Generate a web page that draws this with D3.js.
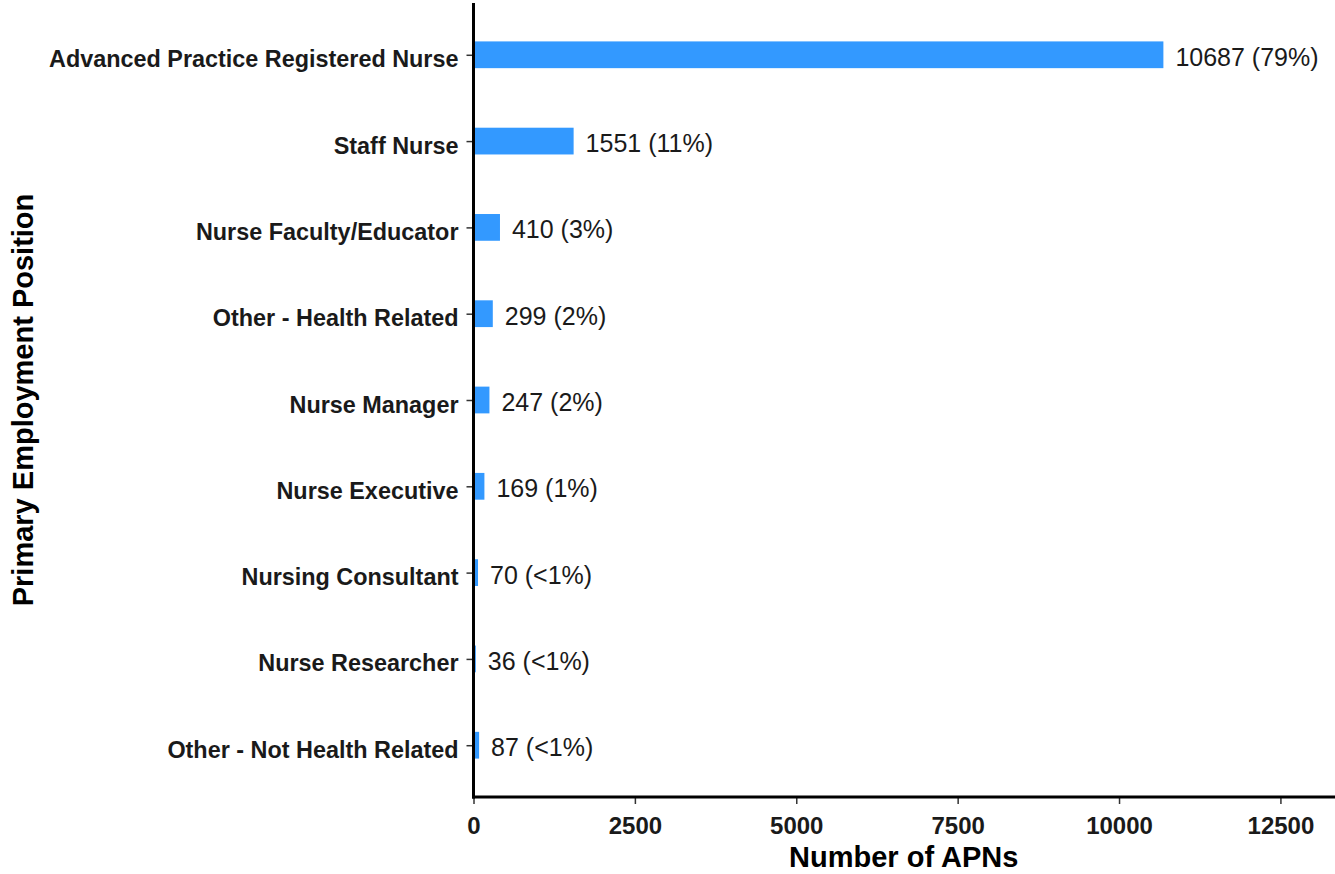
<!DOCTYPE html>
<html>
<head>
<meta charset="utf-8">
<script src="https://cdn.jsdelivr.net/npm/d3@7"></script>
<style>
  body { margin: 0; background: #fff; }
  svg { display: block; font-family: "Liberation Sans", Arial, sans-serif; }
</style>
</head>
<body>
<div class="graph-pane"></div>
<script>
// categories top to bottom
var positions = [
  "Advanced Practice Registered Nurse",
  "Staff Nurse",
  "Nurse Faculty/Educator",
  "Other - Health Related",
  "Nurse Manager",
  "Nurse Executive",
  "Nursing Consultant",
  "Nurse Researcher",
  "Other - Not Health Related"
];
var counts = [10687, 1551, 410, 299, 247, 169, 70, 36, 87];
var shares = ["79%", "11%", "3%", "2%", "2%", "1%", "<1%", "<1%", "<1%"];
var xTicks = [0, 2500, 5000, 7500, 10000, 12500];

var width = 1335, height = 874;
// plot panel edges (window.top is reserved, so no "top" here)
var plotLeft = 473.5, plotRight = 1334, plotTop = 3, plotBottom = 797;

var svg = d3.select('.graph-pane')
  .append('svg')
  .attr('width', width)
  .attr('height', height);

var xScale = d3.scaleLinear()
  .domain([0, 13330])
  .range([plotLeft, plotRight]);

var yScale = d3.scalePoint()
  .domain(positions)
  .range([plotTop, plotBottom])
  .padding(0.6);

var barH = yScale.step() * 0.31;

// bars
svg.append('g')
  .selectAll('rect')
  .data(positions)
  .join('rect')
  .attr('x', xScale(0))
  .attr('y', (d) => yScale(d) - barH / 2)
  .attr('width', (d, i) => xScale(counts[i]) - xScale(0))
  .attr('height', barH)
  .style('fill', '#3399ff');

// value labels next to bars
svg.append('g')
  .selectAll('text')
  .data(positions)
  .join('text')
  .attr('x', (d, i) => xScale(counts[i]) + 12)
  .attr('y', (d) => yScale(d) + 11)
  .style('font-size', '25px')
  .style('fill', '#1a1a1a')
  .text((d, i) => counts[i] + " (" + shares[i] + ")");

// y axis
var yAxis = svg.append('g')
  .attr('transform', 'translate(' + plotLeft + ',0)')
  .call(d3.axisLeft(yScale).tickSize(7).tickPadding(8));
yAxis.select('.domain').remove();
yAxis.selectAll('.tick line').style('stroke', '#333').style('stroke-width', 1.5);
yAxis.selectAll('.tick text')
  .attr('dy', null)
  .attr('y', 12)
  .style('font-size', '23.4px')
  .style('font-weight', 'bold')
  .style('fill', '#1a1a1a');

// x axis
var xAxis = svg.append('g')
  .attr('transform', 'translate(0,' + plotBottom + ')')
  .call(d3.axisBottom(xScale).tickValues(xTicks).tickFormat(d3.format('d')).tickSize(7).tickPadding(6));
xAxis.select('.domain').remove();
xAxis.selectAll('.tick line').style('stroke', '#333').style('stroke-width', 1.5);
xAxis.selectAll('.tick text')
  .attr('dy', null)
  .attr('y', 37)
  .style('font-size', '24px')
  .style('font-weight', 'bold')
  .style('fill', '#1a1a1a');

// axis lines drawn on top
svg.append('line')
  .attr('x1', plotLeft).attr('x2', plotLeft)
  .attr('y1', plotTop).attr('y2', plotBottom + 1.5)
  .style('stroke', 'black').style('stroke-width', 3);
svg.append('line')
  .attr('x1', plotLeft - 1.5).attr('x2', width)
  .attr('y1', plotBottom).attr('y2', plotBottom)
  .style('stroke', 'black').style('stroke-width', 3);

// axis titles
svg.append('text')
  .attr('x', (plotLeft + plotRight) / 2)
  .attr('y', 867)
  .attr('text-anchor', 'middle')
  .style('font-size', '29px')
  .style('font-weight', 'bold')
  .text('Number of APNs');

svg.append('text')
  .attr('transform', 'translate(33,' + (plotTop + plotBottom) / 2 + ') rotate(-90)')
  .attr('text-anchor', 'middle')
  .style('font-size', '29px')
  .style('font-weight', 'bold')
  .text('Primary Employment Position');
</script>
</body>
</html>
